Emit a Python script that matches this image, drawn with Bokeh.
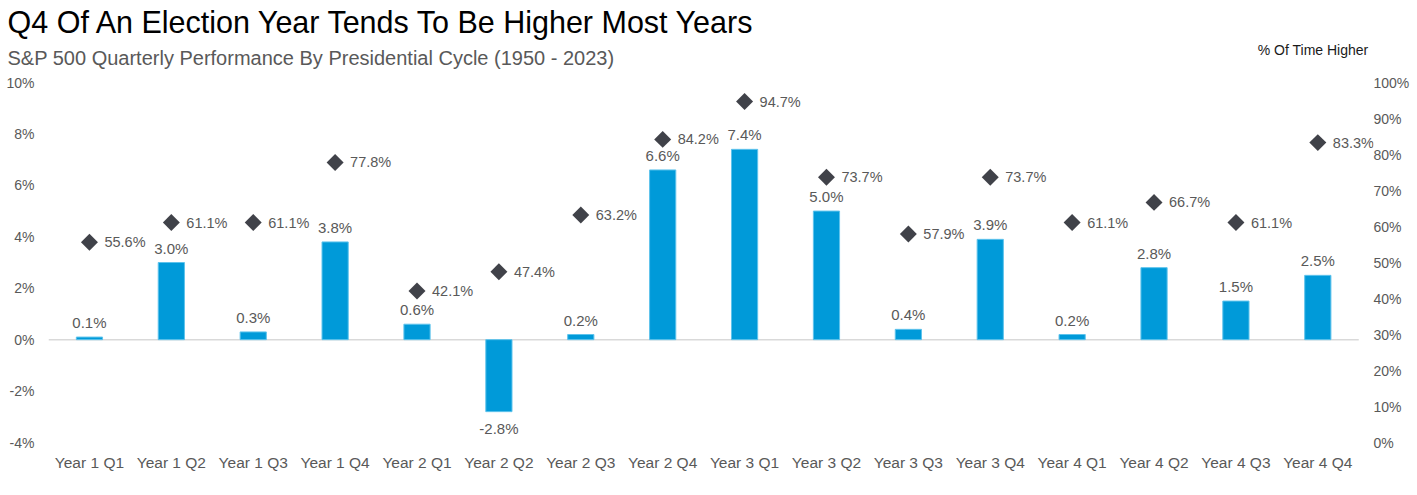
from bokeh.plotting import figure
from bokeh.layouts import column
from bokeh.models import (ColumnDataSource, Range1d, LinearAxis,
                          LabelSet, Label, FixedTicker, PrintfTickFormatter)
from bokeh.core.properties import value
from bokeh.embed import file_html
from bokeh.resources import INLINE

categories = ["Year 1 Q1", "Year 1 Q2", "Year 1 Q3", "Year 1 Q4",
              "Year 2 Q1", "Year 2 Q2", "Year 2 Q3", "Year 2 Q4",
              "Year 3 Q1", "Year 3 Q2", "Year 3 Q3", "Year 3 Q4",
              "Year 4 Q1", "Year 4 Q2", "Year 4 Q3", "Year 4 Q4"]
avg_return = [0.1, 3.0, 0.3, 3.8, 0.6, -2.8, 0.2, 6.6,
              7.4, 5.0, 0.4, 3.9, 0.2, 2.8, 1.5, 2.5]
pct_higher = [55.6, 61.1, 61.1, 77.8, 42.1, 47.4, 63.2, 84.2,
              94.7, 73.7, 57.9, 73.7, 61.1, 66.7, 61.1, 83.3]
left_ticks = [-4, -2, 0, 2, 4, 6, 8, 10]
right_ticks = [0, 10, 20, 30, 40, 50, 60, 70, 80, 90, 100]

TITLE = "Q4 Of An Election Year Tends To Be Higher Most Years"
SUBTITLE = "S&P 500 Quarterly Performance By Presidential Cycle (1950 - 2023)"
RIGHT_HEADER = "% Of Time Higher"

FONT = "Liberation Sans"
GRAY = "#595959"
BLUE = "#009AD9"
DIAMOND = "#404249"

W, H_HEAD, H_MAIN = 1417, 72, 423


def no_frame_align(fig):
    if "frame_align" in fig.properties():
        fig.frame_align = False


# ---------------- header (titles) ----------------
head = figure(width=W, height=H_HEAD, x_range=Range1d(0, W), y_range=Range1d(0, H_HEAD),
              output_backend="svg", toolbar_location=None,
              x_axis_location=None, y_axis_location=None,
              min_border_left=0, min_border_right=0, min_border_top=0, min_border_bottom=0,
              outline_line_color=None)
no_frame_align(head)
head.xgrid.visible = False
head.ygrid.visible = False
head.add_layout(Label(x=7, y=51, text=TITLE, text_align="left", text_baseline="alphabetic",
                      text_font=FONT, text_font_size="30.5px", text_color="#000000"))
head.add_layout(Label(x=7, y=15, text=SUBTITLE, text_align="left", text_baseline="alphabetic",
                      text_font=FONT, text_font_size="20px", text_color=GRAY))
head.add_layout(Label(x=1368, y=23, text=RIGHT_HEADER, text_align="right",
                      text_baseline="alphabetic", text_font=FONT,
                      text_font_size="14px", text_color="#1A1A1A"))

# ---------------- main chart ----------------
n = len(categories)
xs = [i + 0.5 for i in range(n)]   # category slot centres on the x scale

src = ColumnDataSource(dict(
    x=xs, cat=categories, ret=avg_return, pct=pct_higher,
    pct_lbl=[f"{v:.1f}%" for v in pct_higher]))
pos = ColumnDataSource(dict(
    x=[x for x, v in zip(xs, avg_return) if v >= 0],
    ret=[v for v in avg_return if v >= 0],
    lbl=[f"{v:.1f}%" for v in avg_return if v >= 0]))
neg = ColumnDataSource(dict(
    x=[x for x, v in zip(xs, avg_return) if v < 0],
    ret=[v for v in avg_return if v < 0],
    lbl=[f"{v:.1f}%" for v in avg_return if v < 0]))

p = figure(x_range=Range1d(0, n + 0.18), y_range=Range1d(-4, 10),
           width=W, height=H_MAIN,
           output_backend="svg", toolbar_location=None,
           min_border_left=48, min_border_right=44, min_border_top=10, min_border_bottom=53)
no_frame_align(p)
p.extra_y_ranges = {"pct": Range1d(0, 100)}

p.outline_line_color = None
p.xgrid.grid_line_color = None
p.ygrid.grid_line_color = None

# zero line across the category slots
p.segment(x0=[0], x1=[n], y0=[0], y1=[0], line_color="#D9D9D9", line_width=1.5)

p.vbar(x="x", top="ret", bottom=0, width=0.32, source=src,
       fill_color=BLUE, line_color="#5EC3EC", line_width=1)
p.scatter(x="x", y="pct", y_range_name="pct", source=src, marker="square",
          angle=0.785398, size=12, color=DIAMOND, line_color=None)

p.add_layout(LabelSet(x="x", y="ret", text="lbl", source=pos, text_align="center",
                      text_baseline="bottom", y_offset=6, text_font=value(FONT),
                      text_font_size="15px", text_color=GRAY))
p.add_layout(LabelSet(x="x", y="ret", text="lbl", source=neg, text_align="center",
                      text_baseline="top", y_offset=-8, text_font=value(FONT),
                      text_font_size="15px", text_color=GRAY))
p.add_layout(LabelSet(x="x", y="pct", text="pct_lbl", source=src, y_range_name="pct",
                      text_align="left", text_baseline="middle", x_offset=15,
                      text_font=value(FONT), text_font_size="14.5px", text_color=GRAY))

for ax in [p.xaxis[0], p.yaxis[0]]:
    ax.axis_line_color = None
    ax.major_tick_line_color = None
    ax.minor_tick_line_color = None
    ax.major_tick_out = 0
    ax.major_tick_in = 0
    ax.minor_tick_out = 0
    ax.major_label_text_font = FONT
    ax.major_label_text_color = GRAY

p.xaxis[0].ticker = FixedTicker(ticks=xs)
p.xaxis[0].major_label_overrides = {x: c for x, c in zip(xs, categories)}
p.xaxis[0].major_label_text_font_size = "15.5px"
p.xaxis[0].major_label_standoff = 11
p.yaxis[0].ticker = FixedTicker(ticks=left_ticks)
p.yaxis[0].formatter = PrintfTickFormatter(format="%d%%")
p.yaxis[0].major_label_text_font_size = "14px"
p.yaxis[0].major_label_standoff = 14

rax = LinearAxis(y_range_name="pct", ticker=FixedTicker(ticks=right_ticks),
                 formatter=PrintfTickFormatter(format="%d%%"))
rax.axis_line_color = None
rax.major_tick_line_color = None
rax.minor_tick_line_color = None
rax.major_tick_out = 0
rax.major_tick_in = 0
rax.minor_tick_out = 0
rax.major_label_text_font = FONT
rax.major_label_text_font_size = "14px"
rax.major_label_text_color = GRAY
rax.major_label_standoff = 0
p.add_layout(rax, "right")

layout = column(head, p, spacing=0)
open("out.html", "w").write(file_html(layout, INLINE))
